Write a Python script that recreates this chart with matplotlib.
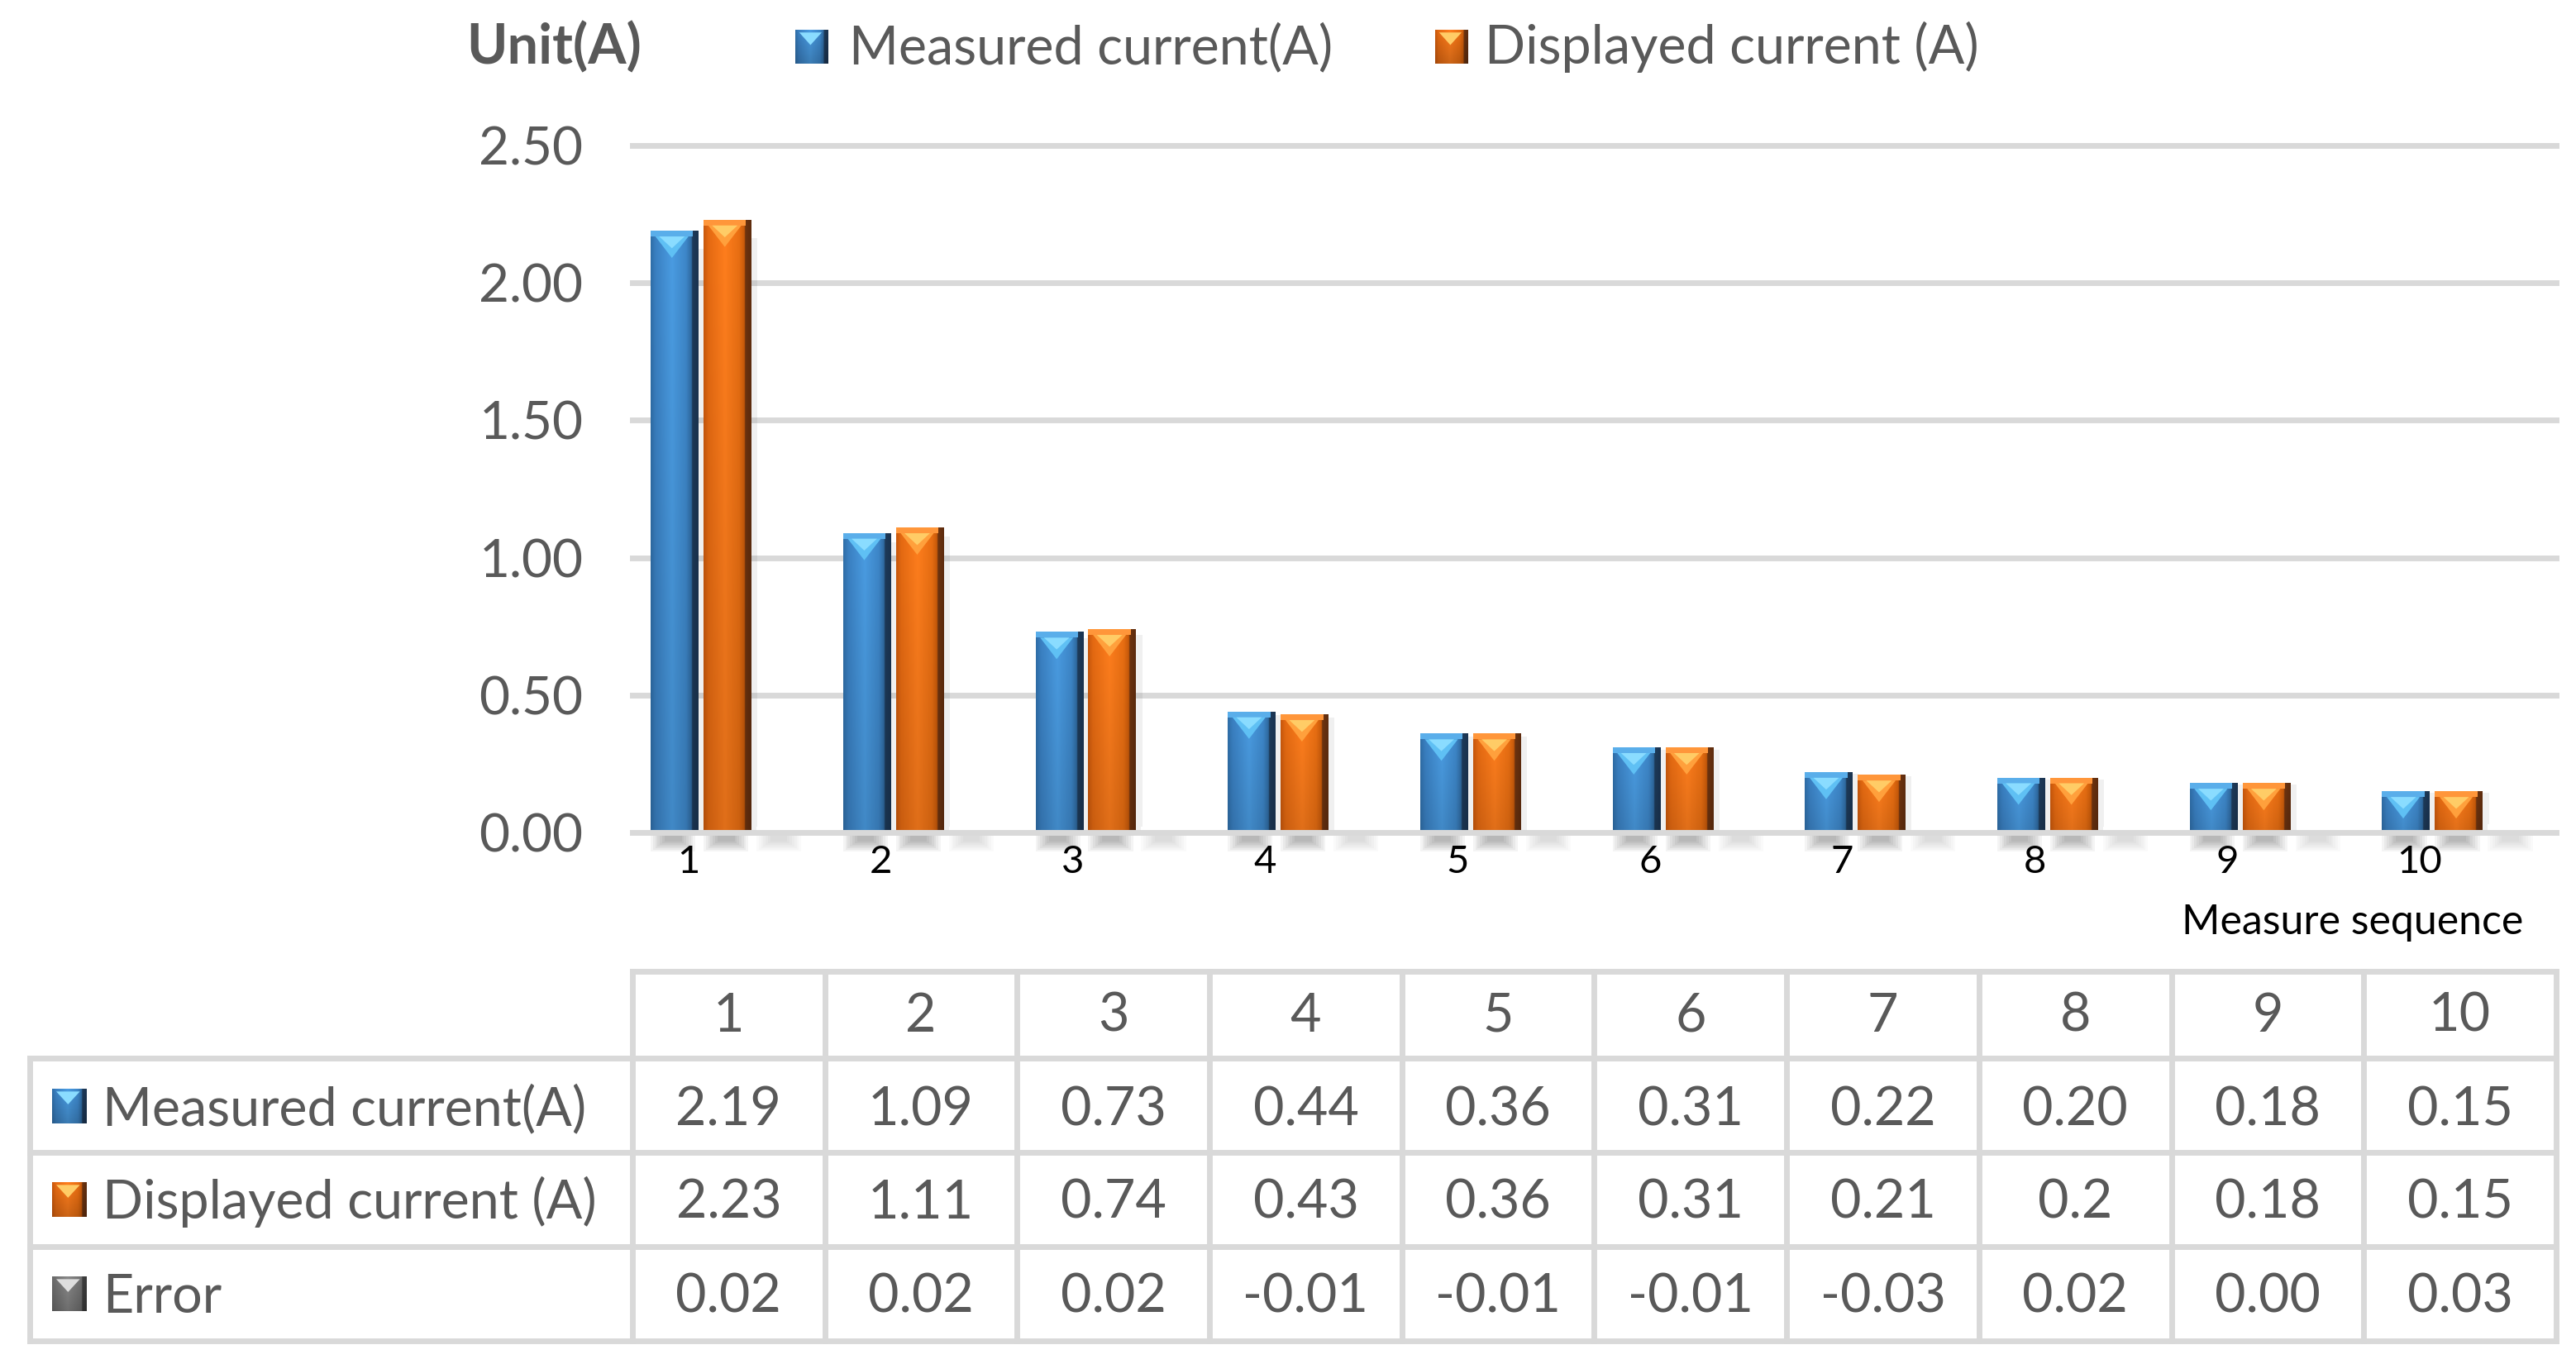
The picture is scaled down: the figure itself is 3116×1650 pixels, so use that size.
import matplotlib

matplotlib.use("Agg")
import matplotlib.pyplot as plt
import numpy as np
from matplotlib.colors import LinearSegmentedColormap
from matplotlib.patches import Polygon, Rectangle

plt.rcParams["font.family"] = ["Lato", "DejaVu Sans"]

sequence = [1, 2, 3, 4, 5, 6, 7, 8, 9, 10]
measured = [2.19, 1.09, 0.73, 0.44, 0.36, 0.31, 0.22, 0.20, 0.18, 0.15]
displayed = [2.23, 1.11, 0.74, 0.43, 0.36, 0.31, 0.21, 0.2, 0.18, 0.15]
error = [0.02, 0.02, 0.02, -0.01, -0.01, -0.01, -0.03, 0.02, 0.00, 0.03]
row_names = ["Measured current(A)", "Displayed current (A)", "Error"]
y_ticks = [0.0, 0.5, 1.0, 1.5, 2.0, 2.5]

W, H = 3116, 1650
GRID = "#d9d9d9"
TXT = "#595959"
FS = 46.5

BLUE_STOPS = [(0.0, "#2f6ea8"), (0.1, "#3a80c2"), (0.45, "#4a9ce2"), (0.75, "#3d86c8"),
              (0.86, "#2f6aa0"), (0.88, "#1e3b5a"), (1.0, "#1a3350")]
ORANGE_STOPS = [(0.0, "#c9580c"), (0.1, "#e56a12"), (0.45, "#ff7e1d"), (0.75, "#e86e12"),
                (0.86, "#c85a0a"), (0.88, "#6e3410"), (1.0, "#5e2c0e")]
GRAY_STOPS = [(0.0, "#6a6a6a"), (0.45, "#8a8a8a"), (0.86, "#6f6f6f"), (0.88, "#404040"), (1.0, "#3a3a3a")]

STYLE = {
    "blue": dict(stops=BLUE_STOPS, cap="#5aaeea", tri1="#5fc0f4", tri2="#8adcff"),
    "orange": dict(stops=ORANGE_STOPS, cap="#ff963a", tri1="#ffa03c", tri2="#ffcc66"),
    "gray": dict(stops=GRAY_STOPS, cap="#9a9a9a", tri1="#b0b0b0", tri2="#dedede"),
}


def gradient_rgb(stops, nx=64, ny=32, dark=0.88):
    cmap = LinearSegmentedColormap.from_list("g", stops)
    row = cmap(np.linspace(0, 1, nx))[:, :3]
    shade = np.linspace(1.0, dark, ny)[:, None, None]
    return np.clip(row[None, :, :] * shade, 0, 1)


def px(x):
    return x / W


def py(y):
    return 1 - y / H


fig = plt.figure(figsize=(W / 100, H / 100), dpi=100)
fig.patch.set_facecolor("white")

ax_l, ax_r, ax_t, ax_b = 765, 3092, 176, 1007
ax = fig.add_axes([px(ax_l), py(ax_b), (ax_r - ax_l) / W, (ax_b - ax_t) / H])
ax.set_facecolor("none")

x = np.arange(len(sequence))
bw = 0.245
offsets = {"blue": 0.095, "orange": 0.37, "gray": 0.645}
unit_per_px = 2.5 / (ax_b - ax_t)

for yv in y_ticks:
    ax.axhline(yv, color=GRID, lw=5, zorder=0 if yv > 0 else 5, clip_on=False)


def draw_shadow(left, width, strength):
    for j in range(7):
        ins = 0.012 * j
        depth = (20 - 2 * j) * unit_per_px
        ax.add_patch(Rectangle((left + ins, -3 * unit_per_px), width - 2 * ins, -depth,
                               color="black", alpha=0.045 * strength, lw=0,
                               clip_on=False, zorder=1))


def fancy_bars(values, key):
    st = STYLE[key]
    left = x + offsets[key]
    bars = ax.bar(left, values, width=bw, align="edge", color=st["stops"][2][1],
                  lw=0, zorder=2)
    img = gradient_rgb(st["stops"])
    cap = 7 * unit_per_px
    tri = 26 * unit_per_px
    for rect in bars:
        x0, w, h = rect.get_x(), rect.get_width(), rect.get_height()
        im = ax.imshow(img, extent=[x0, x0 + w, 0, h], aspect="auto",
                       interpolation="bilinear", zorder=2.5)
        im.set_clip_path(rect)
        # faint glow at right side
        ax.add_patch(Rectangle((x0 + w, 0), 0.035, h * 0.97, color="black",
                               alpha=0.06, lw=0, zorder=1.5))
        ax.add_patch(Rectangle((x0, h - cap), w * 0.9, cap, color=st["cap"], lw=0, zorder=3))
        ax.add_patch(Polygon([(x0 + 0.1 * w, h - cap), (x0 + 0.8 * w, h - cap),
                              (x0 + 0.45 * w, h - cap - tri)],
                             closed=True, color=st["tri1"], lw=0, zorder=3))
        ax.add_patch(Polygon([(x0 + 0.18 * w, h - cap), (x0 + 0.72 * w, h - cap),
                              (x0 + 0.45 * w, h - cap - tri * 0.55)],
                             closed=True, color=st["tri2"], lw=0, zorder=3.1))
        draw_shadow(x0, w * 0.95, 1.0)
    return bars


fancy_bars(measured, "blue")
fancy_bars(displayed, "orange")
# error series: practically invisible in the 3-D chart, only its shadow shows
ax.bar(x + offsets["gray"], error, width=bw, align="edge", color="white", lw=0, zorder=1.8)
for xi in x:
    draw_shadow(xi + offsets["gray"], bw * 0.95, 0.45)

ax.set_xlim(0, len(sequence))
ax.set_ylim(0, 2.5)
ax.set_yticks(y_ticks)
ax.set_yticklabels([f"{v:.2f}" for v in y_ticks])
ax.tick_params(axis="y", length=0, pad=43, labelsize=46, labelcolor=TXT)
ax.set_xticks(x + 0.29)
ax.set_xticklabels([str(s) for s in sequence])
ax.tick_params(axis="x", length=0, pad=11, labelsize=34, labelcolor="black")
for s in ax.spines.values():
    s.set_visible(False)

# overlay in pixel coordinates for legend and data table
ov = fig.add_axes([0, 0, 1, 1], zorder=5)
ov.set_xlim(0, W)
ov.set_ylim(H, 0)
ov.axis("off")
ov.set_facecolor("none")

ov.text(3052, 1116, "Measure sequence", fontsize=36, color="black", ha="right", va="center")


def icon(x0, y0, w, h, key):
    st = STYLE[key]
    img = gradient_rgb(st["stops"], dark=0.8)
    ov.imshow(img, extent=[x0, x0 + w, y0 + h, y0], aspect="auto", interpolation="bilinear", zorder=6)
    ov.add_patch(Polygon([(x0 + 0.12 * w, y0 + 0.08 * h), (x0 + 0.8 * w, y0 + 0.08 * h),
                          (x0 + 0.46 * w, y0 + 0.45 * h)], closed=True,
                         color=st["tri2"], lw=0, zorder=7))


# top legend
ov.text(564, 77, "Unit(A)", fontsize=48, fontweight="bold", color=TXT, ha="left", va="baseline")
icon(962, 36, 40, 41, "blue")
ov.text(1027, 77, row_names[0], fontsize=FS, color=TXT, ha="left", va="baseline")
icon(1736, 36, 40, 41, "orange")
ov.text(1796, 77, row_names[1], fontsize=FS, color=TXT, ha="left", va="baseline")

# data table
slot = (ax_r - ax_l) / len(sequence)
col_edges = [ax_l + i * slot for i in range(len(sequence) + 1)]
row_edges = [1175, 1280, 1394, 1508, 1622]
tab_left = 36
lw_tab = 5
ov.plot([col_edges[0], col_edges[-1]], [row_edges[0]] * 2, color=GRID, lw=lw_tab, solid_capstyle="projecting")
for ry in row_edges[1:]:
    ov.plot([tab_left, col_edges[-1]], [ry, ry], color=GRID, lw=lw_tab, solid_capstyle="projecting")
ov.plot([tab_left, tab_left], [row_edges[1], row_edges[-1]], color=GRID, lw=lw_tab, solid_capstyle="projecting")
for cx in col_edges:
    ov.plot([cx, cx], [row_edges[0], row_edges[-1]], color=GRID, lw=lw_tab, solid_capstyle="projecting")

baselines = [1248, 1361, 1474, 1588]
rows = [
    [str(s) for s in sequence],
    [f"{v:.2f}" for v in measured],
    [f"{v:g}" for v in displayed],
    [f"{v:.2f}" for v in error],
]
for r, (texts, by) in enumerate(zip(rows, baselines)):
    for i, t in enumerate(texts):
        cx = (col_edges[i] + col_edges[i + 1]) / 2
        ov.text(cx, by, t, fontsize=FS, color=TXT, ha="center", va="baseline")

for name, key, by in zip(row_names, ["blue", "orange", "gray"], baselines[1:]):
    icon(63, by - 44, 42, 42, key)
    ov.text(124, by, name, fontsize=FS, color=TXT, ha="left", va="baseline")

fig.savefig("out.png", dpi=100, facecolor="white")
